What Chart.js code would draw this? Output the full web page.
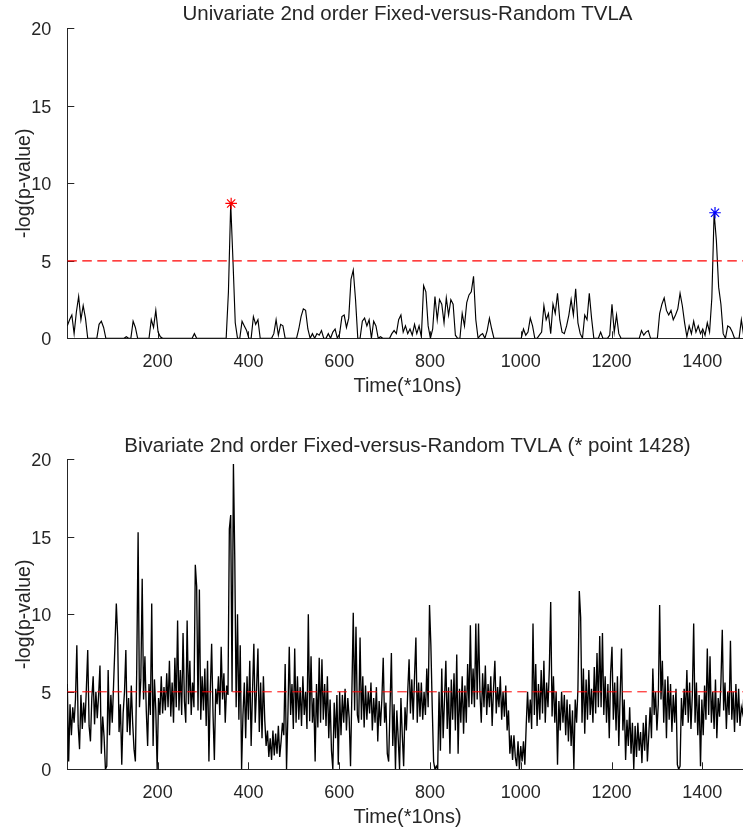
<!DOCTYPE html>
<html>
<head>
<meta charset="utf-8">
<script src="https://cdn.jsdelivr.net/npm/chart.js@4.4.0/dist/chart.umd.min.js"></script>
<style>
  html, body { margin: 0; padding: 0; background: #fff; overflow: hidden; }
  #wrap { position: relative; width: 743px; height: 835px; overflow: hidden; }
  canvas { position: absolute; left: 0; }
  #c1 { top: 0px; }
  #c2 { top: 431px; }
</style>
</head>
<body>
<div id="wrap">
  <canvas id="c1" width="760" height="400"></canvas>
  <canvas id="c2" width="760" height="400"></canvas>
</div>
<script>
// time index (*10ns) spacing of the two traces
var uniStep = 5, uniCount = 300;
var bivStep = 3, bivCount = 500;

// univariate -log(p), top panel, one value per 5 samples
var uniVals = [
  0.8,1.2,1.5,0.3,1.7,2.7,1.2,2.1,1.3,0,
  0,0,0,0,0.9,1.1,0.7,0,0,0,
  0,0,0,0,0,0,0.1,0,0,1.1,
  0.7,0,0,0,0,0,0,1.2,0.7,1.8,
  0.4,0.1,0,0,0,0,0,0,0,0,
  0,0,0,0,0,0,0.3,0,0,0,
  0,0,0,0,0,0,0,0,0,0,
  0,3.0,8.7,5.0,1.0,0,0,1.1,0.8,0.5,
  0,0,1.4,0.9,1.2,0,0,0,0,0,
  0,0.3,1.2,0.2,0.9,0.8,0,0,0,0,
  0,0,0.6,1.4,1.9,1.8,0.6,0,0.3,0,
  0.3,0.2,0.5,0,0,0.3,0,0.4,0.6,0,
  0.3,1.4,1.5,0.7,1.3,3.8,4.4,2.5,0,0,
  1.1,1.3,0.8,1.2,0,1.1,0.8,0,0.1,0,
  0,0,0,0.3,0.5,0.3,1.2,1.5,0.4,0.8,
  0.3,0.6,0.2,0.9,0.3,0.8,0.1,3.4,3.0,0.8,
  0,0.6,2.7,1.2,2.5,2.2,1.0,2.6,1.5,2.5,
  2.2,0.2,0,0,1.6,0.8,2.3,2.8,3.0,4.0,
  1.2,0,0.2,0.3,0,0.5,1.3,0.6,0,0,
  0,0,0,0,0,0,0,0,0,0,
  0,0.6,0.2,0.4,1.3,0.8,0,0,0.2,0.4,
  2.1,1.2,1.6,0.3,2.2,1.6,2.9,1.2,0.4,0.3,
  0.8,1.5,2.5,1.5,3.2,1.0,0.3,0,1.5,1.2,
  2.9,1.3,0,0,0,0.4,0,0,0,0.2,
  2.2,0.4,1.5,0.3,0,0,0,0,0,0,
  0,0,0,0.5,0.2,0.4,0.5,0,0,0,
  0,1.6,2.2,2.6,1.8,1.5,1.8,1.2,1.5,1.9,
  2.9,2.1,1.0,0.1,0.8,0.3,1.1,0.4,0.8,0.3,
  0.6,0.2,1.0,0.4,2.6,8.1,6.3,3.3,2.2,0.3,
  0,0.8,0.7,0.4,0,0,0,1.2,0.2,1.2
];

// bivariate -log(p), bottom panel, one value per 3 samples
var bivVals = [
  5.5,0.5,4.2,2.2,4.0,3.0,4.5,8.0,2.8,1.3,
  4.8,2.6,4.3,3.0,5.2,7.7,2.8,1.8,4.6,6.0,
  2.9,5.0,3.3,4.8,6.7,1.0,3.4,2.1,0.0,0.2,
  6.4,2.2,4.8,3.0,5.5,8.0,10.7,8.5,2.4,4.2,
  0.3,3.6,5.0,7.7,2.4,4.6,2.2,5.4,3.0,1.3,
  0.5,6.5,15.3,4.0,5.8,12.3,4.5,7.3,3.8,1.5,
  5.5,3.5,10.7,1.5,5.8,3.8,0.0,4.6,3.5,6.0,
  3.6,5.3,3.8,6.2,4.0,7.0,3.4,5.6,3.0,7.2,
  4.0,9.6,3.8,6.4,3.5,8.8,4.4,3.0,9.6,4.2,
  7.0,3.5,5.6,4.0,13.2,11.8,3.8,11.6,3.2,6.0,
  3.8,6.5,2.8,7.0,0.5,5.0,8.1,3.6,0.6,5.2,
  4.2,6.0,3.5,7.9,4.5,6.2,3.0,5.4,4.8,15.5,
  16.4,5.0,19.7,13.5,4.0,10.0,3.2,8.0,0.0,3.5,
  5.6,2.0,6.0,3.2,7.0,1.5,5.0,8.1,3.0,5.2,
  7.8,2.4,5.6,2.0,6.0,3.2,1.5,2.5,0.8,2.0,
  0.6,2.5,0.9,2.3,1.0,2.8,0.8,1.8,3.0,2.2,
  6.8,0.0,3.5,7.9,3.5,5.5,2.6,7.8,3.0,6.0,
  3.2,5.3,2.8,6.0,3.5,5.0,2.6,10.0,3.1,7.3,
  3.0,4.6,0.5,5.5,2.7,7.2,3.0,7.1,3.2,5.5,
  2.8,6.0,2.0,4.5,1.2,0.0,4.3,2.0,4.8,0.3,
  5.0,2.2,4.8,3.0,5.2,2.5,4.6,3.3,0.2,5.0,
  10.1,3.8,9.2,3.5,3.0,8.5,3.2,6.0,2.7,5.4,
  3.2,5.0,3.6,5.6,2.5,4.6,3.0,5.3,1.8,4.4,
  2.8,4.5,7.2,3.0,4.3,1.0,0.5,4.0,7.5,1.5,
  4.2,0.0,3.8,2.0,0.0,4.6,2.2,0.2,4.0,2.5,
  5.0,7.1,3.6,5.8,3.2,6.0,8.5,3.0,5.6,3.4,
  5.6,3.2,5.0,3.5,6.5,4.0,10.6,8.0,4.0,0.5,
  0.0,0.2,0.0,5.0,1.2,6.5,2.0,4.5,7.0,2.6,
  5.3,1.0,5.8,3.2,6.2,2.5,7.4,1.0,5.2,3.0,
  6.0,2.3,5.4,3.0,6.8,4.0,9.3,4.2,6.5,4.0,
  9.4,4.5,9.4,5.0,3.0,6.2,4.0,6.7,3.5,5.5,
  4.0,6.0,2.8,5.2,7.0,3.6,5.3,4.0,6.0,3.2,
  5.0,3.4,5.4,2.5,3.8,1.0,2.2,0.6,2.2,0.8,
  0.2,1.8,0.0,1.5,0.5,1.8,0.3,2.8,5.0,3.0,
  4.5,2.6,9.4,3.5,6.8,2.8,5.5,3.2,6.4,3.6,
  7.0,3.0,5.6,4.0,6.5,10.8,3.4,6.0,3.0,5.0,
  0.3,4.4,2.5,5.0,3.0,4.8,2.2,4.5,1.8,4.2,
  1.5,3.8,0.0,4.5,3.0,5.2,11.5,9.8,3.0,6.5,
  2.3,5.8,3.2,6.4,3.5,5.2,3.0,6.6,3.6,7.5,
  4.0,8.6,4.0,8.8,3.5,6.0,3.0,5.5,2.0,6.2,
  7.9,3.2,5.6,2.5,6.0,1.5,4.8,7.8,2.5,4.5,
  0.6,3.2,1.5,4.0,1.0,3.0,0.0,2.8,0.8,3.0,
  1.2,2.4,0.4,3.0,1.2,3.5,0.5,2.2,4.0,2.0,
  6.5,3.5,5.0,2.5,4.2,10.6,4.5,7.0,3.0,5.8,
  2.0,6.0,3.2,5.5,2.4,4.8,3.0,5.2,0.3,0.0,
  0.2,4.6,2.8,5.2,3.5,6.4,3.0,5.6,2.6,4.8,
  9.4,3.0,5.6,2.2,4.8,0.2,4.5,2.2,5.4,3.2,
  7.8,3.5,7.3,3.0,5.0,2.6,5.8,2.0,4.6,3.4,
  5.6,9.0,3.8,5.6,2.6,5.0,3.5,8.3,3.2,5.0,
  2.4,5.5,3.0,5.2,2.8,4.0,3.6,5.0,3.2,4.0
];

// marked leakage points on the univariate plot
var starX = [362, 1428];
var starY = [8.7, 8.1];
var starColors = ['#ff0000', '#0000ff'];

var threshold = 5;
var xTicks = [200, 400, 600, 800, 1000, 1200, 1400];
var yTicks = [0, 5, 10, 15, 20];

function timeIndex(step, count) {
  var t = [];
  for (var i = 0; i < count; i++) t.push(1 + i * step);
  return t;
}

var FONT = "'Liberation Sans', Arial, Helvetica, sans-serif";
var AX = '#262626';

// MATLAB style ticks pointing into the axes
var innerTicks = {
  id: 'innerTicks',
  beforeDatasetsDraw: function(chart) {
    var ctx = chart.ctx, a = chart.chartArea, sx = chart.scales.x, sy = chart.scales.y;
    ctx.save();
    ctx.strokeStyle = AX;
    ctx.lineWidth = 1;
    ctx.beginPath();
    sx.ticks.forEach(function(t) {
      var px = Math.round(sx.getPixelForValue(t.value)) + 0.5;
      ctx.moveTo(px, a.bottom);
      ctx.lineTo(px, a.bottom - 7);
    });
    sy.ticks.forEach(function(t) {
      var py = Math.round(sy.getPixelForValue(t.value)) + 0.5;
      ctx.moveTo(a.left, py);
      ctx.lineTo(a.left + 7, py);
    });
    ctx.stroke();
    ctx.restore();
  }
};

function makePanel(id, titleText, values, step, withStars, titlePad, redWidth, lineWidth) {
  var times = timeIndex(step, values.length);
  var datasets = [];
  if (withStars) {
    datasets.push({
      data: starX.map(function(x, k) { return {x: x, y: starY[k]}; }),
      showLine: false,
      pointStyle: 'star',
      pointRadius: 5.8,
      pointBorderWidth: 1.2,
      pointBorderColor: starColors,
      pointBackgroundColor: starColors
    });
  }
  datasets.push({
    data: [{x: 1, y: threshold}, {x: 1500, y: threshold}],
    borderColor: '#ff0000',
    borderWidth: redWidth,
    borderDash: [9.5, 5.5],
    pointRadius: 0
  });
  datasets.push({
    data: times.map(function(t, k) { return {x: t, y: values[k]}; }),
    borderColor: '#000000',
    borderWidth: lineWidth,
    pointRadius: 0,
    tension: 0
  });

  return new Chart(document.getElementById(id), {
    type: 'line',
    data: { datasets: datasets },
    plugins: [innerTicks],
    options: {
      responsive: false,
      animation: false,
      devicePixelRatio: 1,
      layout: { padding: { left: 0, right: 12.3, top: 0, bottom: 0 } },
      plugins: {
        legend: { display: false },
        tooltip: { enabled: false },
        title: {
          display: true,
          text: titleText,
          fullSize: false,
          color: AX,
          font: { family: FONT, size: 20.5, weight: 'normal' },
          padding: titlePad
        }
      },
      scales: {
        x: {
          type: 'linear',
          min: 1,
          max: 1500,
          grid: { display: false },
          border: { display: true, color: AX, width: 1 },
          afterBuildTicks: function(s) { s.ticks = xTicks.map(function(v) { return {value: v}; }); },
          afterFit: function(s) { s.height = 61.7; },
          ticks: {
            color: AX,
            padding: 5.4,
            maxRotation: 0,
            font: { family: FONT, size: 18 },
            callback: function(v) { return String(v); }
          },
          title: {
            display: true,
            text: 'Time(*10ns)',
            color: AX,
            font: { family: FONT, size: 20 },
            padding: { top: 0, bottom: 1.3 }
          }
        },
        y: {
          min: 0,
          max: 20,
          grid: { display: false },
          border: { display: true, color: AX, width: 1 },
          afterBuildTicks: function(s) { s.ticks = yTicks.map(function(v) { return {value: v}; }); },
          afterFit: function(s) { s.width = 67.3; },
          ticks: {
            color: AX,
            padding: 8,
            labelOffset: 2,
            font: { family: FONT, size: 18 },
            callback: function(v) { return String(v); }
          },
          title: {
            display: true,
            text: '-log(p-value)',
            color: AX,
            font: { family: FONT, size: 19.5 },
            padding: { top: 12.8, bottom: 0 }
          }
        }
      }
    }
  });
}

makePanel('c1', 'Univariate 2nd order Fixed-versus-Random TVLA', uniVals, uniStep, true,
  { top: 2, bottom: 1.7 }, 1.3, 1.15);
makePanel('c2', 'Bivariate 2nd order Fixed-versus-Random TVLA (* point 1428)', bivVals, bivStep, false,
  { top: 3, bottom: 0.7 }, 1, 1.35);
</script>
</body>
</html>
